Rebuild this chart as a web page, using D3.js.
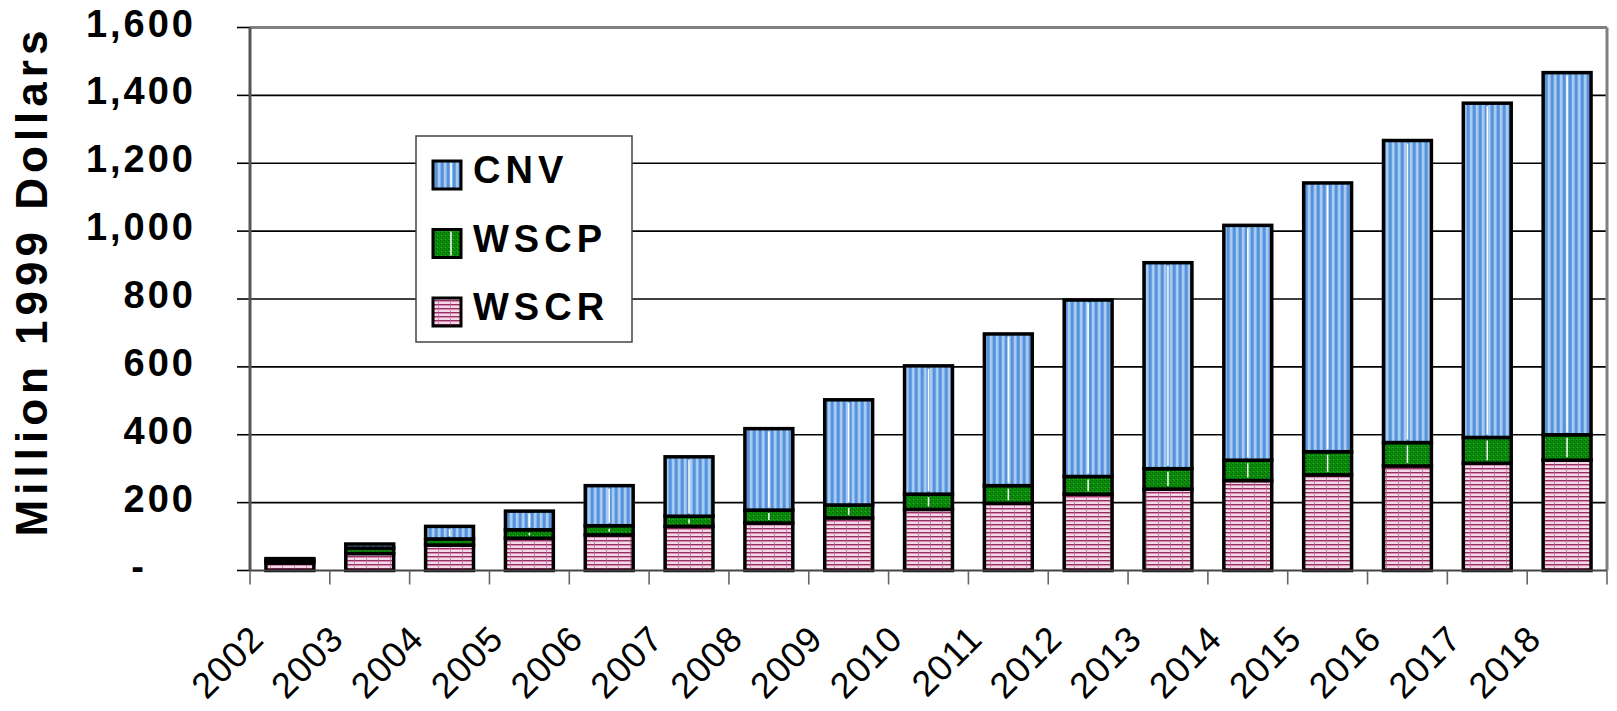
<!DOCTYPE html>
<html>
<head>
<meta charset="utf-8">
<script src="https://cdn.jsdelivr.net/npm/d3@7"></script>
<style>
  body { margin: 0; background: #fff; }
  svg { display: block; font-family: "Liberation Sans", Arial, sans-serif; }
</style>
</head>
<body>
<div id="chart"></div>
<script>
// data (million 1999 dollars)
const years = ["2002", "2003", "2004", "2005", "2006", "2007", "2008", "2009", "2010",
  "2011", "2012", "2013", "2014", "2015", "2016", "2017", "2018"];
const wscr = [22, 50, 75, 95, 105, 130, 140, 155, 180, 198, 225, 240, 265, 282, 308, 316, 325];
const wscp = [8, 16, 18, 25, 27, 30, 38, 38, 45, 52, 52, 60, 60, 68, 69, 76, 75];
const cnv = [5, 12, 37, 55, 118, 175, 240, 310, 378, 447, 520, 607, 692, 792, 890, 985, 1067];
const seriesKeys = ["WSCR", "WSCP", "CNV"];
const yTicks = [0, 200, 400, 600, 800, 1000, 1200, 1400, 1600];

const width = 1617, height = 711;

const table = years.map((y, i) => ({ year: y, WSCR: wscr[i], WSCP: wscp[i], CNV: cnv[i] }));
const stacked = d3.stack().keys(seriesKeys)(table);

const svg = d3.select("#chart").append("svg")
  .attr("width", width)
  .attr("height", height);

// fill patterns
const defs = svg.append("defs");

const pBlue = defs.append("pattern").attr("id", "pCNV")
  .attr("patternUnits", "userSpaceOnUse").attr("width", 6).attr("height", 6);
pBlue.append("rect").attr("width", 6).attr("height", 6).attr("fill", "#6aa2e4");
pBlue.append("rect").attr("x", 0).attr("width", 2).attr("height", 6).attr("fill", "#a8cbf2");
pBlue.append("rect").attr("x", 2).attr("width", 1).attr("height", 6).attr("fill", "#84b4ea");
pBlue.append("rect").attr("x", 3).attr("width", 2).attr("height", 6).attr("fill", "#5892db");

const pGreen = defs.append("pattern").attr("id", "pWSCP")
  .attr("patternUnits", "userSpaceOnUse").attr("width", 4).attr("height", 4);
pGreen.append("rect").attr("width", 4).attr("height", 4).attr("fill", "#0a8c0a");
pGreen.append("rect").attr("x", 0).attr("y", 0).attr("width", 1).attr("height", 1).attr("fill", "#015a01");
pGreen.append("rect").attr("x", 2).attr("y", 2).attr("width", 1).attr("height", 1).attr("fill", "#015a01");
pGreen.append("rect").attr("x", 1).attr("y", 3).attr("width", 1).attr("height", 1).attr("fill", "#3aaa3a");

const pPink = defs.append("pattern").attr("id", "pWSCR")
  .attr("patternUnits", "userSpaceOnUse").attr("width", 12).attr("height", 4);
pPink.append("rect").attr("width", 12).attr("height", 4).attr("fill", "#f3d9e7");
pPink.append("rect").attr("y", 0).attr("width", 12).attr("height", 1).attr("fill", "#982c64");
pPink.append("rect").attr("y", 1).attr("width", 12).attr("height", 1).attr("fill", "#d390b4");
pPink.append("rect").attr("x", 6).attr("width", 1).attr("height", 4).attr("fill", "#b86a94").attr("opacity", 0.7);

const fills = { CNV: "url(#pCNV)", WSCP: "url(#pWSCP)", WSCR: "url(#pWSCR)" };

// scales
const x = d3.scaleBand()
  .domain(years)
  .range([250, 1607])
  .paddingInner(0.4)
  .paddingOuter(0.2);

const y = d3.scaleLinear()
  .domain([0, 1600])
  .range([570.5, 27.5]);

const left = x.range()[0], right = x.range()[1];

// gridlines
svg.append("g")
  .selectAll("line")
  .data(yTicks.filter(d => d > 0 && d < 1600))
  .join("line")
  .attr("x1", left).attr("x2", right)
  .attr("y1", d => y(d)).attr("y2", d => y(d))
  .attr("stroke", "#000")
  .attr("stroke-width", 1.6);

// plot border (top and right)
svg.append("line")
  .attr("x1", left).attr("x2", right)
  .attr("y1", y(1600)).attr("y2", y(1600))
  .attr("stroke", "#808080").attr("stroke-width", 3);
svg.append("line")
  .attr("x1", right).attr("x2", right)
  .attr("y1", y(1600)).attr("y2", y(0))
  .attr("stroke", "#808080").attr("stroke-width", 3);

// y ticks and labels
svg.append("g")
  .selectAll("line")
  .data(yTicks)
  .join("line")
  .attr("x1", left - 13).attr("x2", left)
  .attr("y1", d => y(d)).attr("y2", d => y(d))
  .attr("stroke", "#000")
  .attr("stroke-width", 1.6);

// accounting style: zero shows as a dash set back from the column edge
svg.append("g")
  .selectAll("text")
  .data(yTicks)
  .join("text")
  .attr("x", d => d === 0 ? 147 : 196)
  .attr("y", d => y(d) + 9)
  .attr("text-anchor", "end")
  .style("font-size", "38px")
  .style("font-weight", "bold")
  .style("letter-spacing", "3px")
  .text(d => d === 0 ? "-" : d3.format(",")(d));

// y axis title
svg.append("text")
  .attr("transform", "translate(47,281) rotate(-90)")
  .attr("text-anchor", "middle")
  .style("font-size", "44px")
  .style("font-weight", "bold")
  .style("letter-spacing", "5px")
  .text("Million 1999 Dollars");

// legend box
const legend = svg.append("g");
legend.append("rect")
  .attr("x", 416).attr("y", 136)
  .attr("width", 216).attr("height", 206)
  .attr("fill", "#fff")
  .attr("stroke", "#444")
  .attr("stroke-width", 1.5);

const legendItems = ["CNV", "WSCP", "WSCR"];
legendItems.forEach((k, i) => {
  const ly = 161 + i * 68.5;
  legend.append("rect")
    .attr("x", 433).attr("y", ly)
    .attr("width", 28).attr("height", 28)
    .attr("fill", fills[k])
    .attr("stroke", "#000")
    .attr("stroke-width", 3);
  if (k !== "WSCR") {
    legend.append("line")
      .attr("x1", 451).attr("x2", 451)
      .attr("y1", ly + 2).attr("y2", ly + 26)
      .attr("stroke", "#fff").attr("stroke-width", 1.5);
  }
  legend.append("text")
    .attr("x", 473).attr("y", ly + 22)
    .style("font-size", "38px")
    .style("font-weight", "bold")
    .style("letter-spacing", "5px")
    .text(k);
});

// bars
const layers = svg.append("g")
  .selectAll("g")
  .data(stacked)
  .join("g")
  .attr("fill", d => fills[d.key]);

layers.selectAll("rect")
  .data(d => d)
  .join("rect")
  .attr("x", d => x(d.data.year))
  .attr("width", x.bandwidth())
  .attr("y", d => y(d[1]))
  .attr("height", d => y(d[0]) - y(d[1]))
  .attr("stroke", "#000")
  .attr("stroke-width", 3.5);

// white centre line seen in the blue and green fills
stacked.filter(s => s.key !== "WSCR").forEach(s => {
  svg.append("g")
    .selectAll("line")
    .data(s.filter(d => y(d[0]) - y(d[1]) > 6))
    .join("line")
    .attr("x1", d => x(d.data.year) + x.bandwidth() / 2)
    .attr("x2", d => x(d.data.year) + x.bandwidth() / 2)
    .attr("y1", d => y(d[1]) + 3)
    .attr("y2", d => y(d[0]) - 3)
    .attr("stroke", "#fff")
    .attr("stroke-width", 1.5);
});

// x axis line and ticks
svg.append("line")
  .attr("x1", left).attr("x2", right)
  .attr("y1", y(0)).attr("y2", y(0))
  .attr("stroke", "#444").attr("stroke-width", 2);
svg.append("line")
  .attr("x1", left).attr("x2", left)
  .attr("y1", y(1600)).attr("y2", y(0))
  .attr("stroke", "#555").attr("stroke-width", 3);

const step = x.step();
svg.append("g")
  .selectAll("line")
  .data(d3.range(years.length + 1))
  .join("line")
  .attr("x1", i => left + i * step)
  .attr("x2", i => left + i * step)
  .attr("y1", y(0))
  .attr("y2", y(0) + 14)
  .attr("stroke", "#666")
  .attr("stroke-width", 1.6);

// x labels, rotated
svg.append("g")
  .selectAll("text")
  .data(years)
  .join("text")
  .attr("transform", d => `translate(${x(d) + x.bandwidth() / 2 - 24},641) rotate(-45)`)
  .attr("text-anchor", "end")
  .style("font-size", "36px")
  .style("letter-spacing", "1px")
  .text(d => d);
</script>
</body>
</html>
